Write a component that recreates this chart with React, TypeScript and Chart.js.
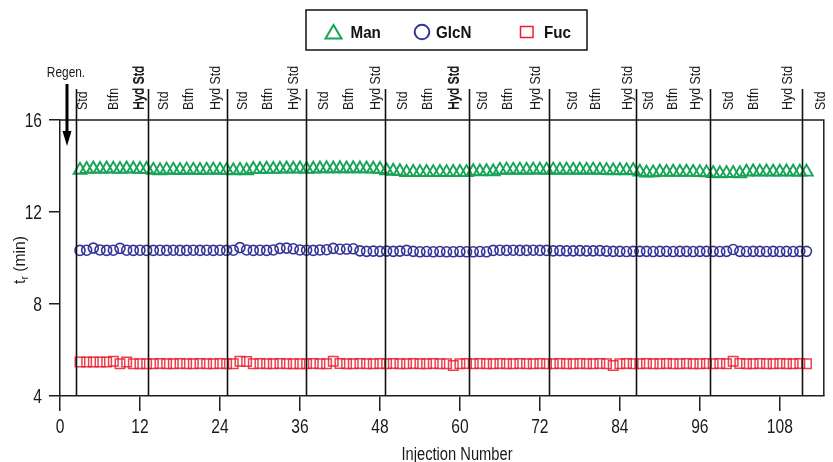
import React, { useEffect, useRef } from 'react';
import { Chart, registerables } from 'chart.js';

Chart.register(...registerables);

const injections = [
  3, 4, 5, 6, 7, 8, 9, 10, 11, 12, 13,
  14, 15, 16, 17, 18, 19, 20, 21, 22, 23, 24, 25,
  26, 27, 28, 29, 30, 31, 32, 33, 34, 35, 36,
  37, 38, 39, 40, 41, 42, 43, 44, 45, 46, 47, 48,
  49, 50, 51, 52, 53, 54, 55, 56, 57, 58, 59, 60, 61,
  62, 63, 64, 65, 66, 67, 68, 69, 70, 71, 72, 73,
  74, 75, 76, 77, 78, 79, 80, 81, 82, 83, 84, 85, 86,
  87, 88, 89, 90, 91, 92, 93, 94, 95, 96, 97,
  98, 99, 100, 101, 102, 103, 104, 105, 106, 107, 108, 109, 110, 111,
  112,
];

const manValues = [
  13.82, 13.86, 13.88, 13.86, 13.88, 13.87, 13.86, 13.88, 13.87, 13.86, 13.86,
  13.82, 13.8, 13.83, 13.82, 13.81, 13.83, 13.82, 13.81, 13.82, 13.83, 13.82, 13.81,
  13.8, 13.82, 13.8, 13.86, 13.85, 13.87, 13.86, 13.87, 13.88, 13.87, 13.88,
  13.86, 13.87, 13.88, 13.89, 13.88, 13.89, 13.88, 13.89, 13.88, 13.88, 13.87, 13.86,
  13.8, 13.78, 13.76, 13.72, 13.73, 13.72, 13.73, 13.72, 13.73, 13.72, 13.73, 13.73, 13.72,
  13.76, 13.75, 13.76, 13.75, 13.82, 13.83, 13.82, 13.83, 13.82, 13.83, 13.83, 13.82,
  13.83, 13.82, 13.83, 13.82, 13.83, 13.82, 13.83, 13.82, 13.81, 13.8, 13.81, 13.8, 13.81,
  13.74, 13.7, 13.71, 13.74, 13.73, 13.74, 13.73, 13.74, 13.73, 13.72, 13.71,
  13.68, 13.67, 13.68, 13.68, 13.67, 13.74, 13.75, 13.74, 13.75, 13.74, 13.74, 13.75, 13.74, 13.74,
  13.74,
];

const glcnValues = [
  10.33, 10.34, 10.43, 10.35, 10.33, 10.34, 10.42, 10.34, 10.33, 10.34, 10.33,
  10.33, 10.34, 10.33, 10.34, 10.33, 10.33, 10.34, 10.33, 10.34, 10.33, 10.34, 10.33,
  10.34, 10.45, 10.35, 10.33, 10.34, 10.33, 10.35, 10.42, 10.43, 10.4, 10.35,
  10.34, 10.33, 10.35, 10.36, 10.42, 10.38, 10.39, 10.4, 10.31, 10.29, 10.3, 10.29,
  10.3, 10.29, 10.3, 10.33, 10.29, 10.27, 10.28, 10.27, 10.28, 10.27, 10.27, 10.28, 10.27,
  10.27, 10.28, 10.27, 10.33, 10.34, 10.33, 10.34, 10.33, 10.33, 10.34, 10.33, 10.33,
  10.31, 10.32, 10.31, 10.31, 10.32, 10.31, 10.31, 10.32, 10.3, 10.29, 10.29, 10.28, 10.29,
  10.29, 10.29, 10.28, 10.29, 10.29, 10.28, 10.29, 10.29, 10.28, 10.29, 10.29,
  10.29, 10.28, 10.29, 10.37, 10.29, 10.28, 10.29, 10.29, 10.28, 10.29, 10.28, 10.29, 10.28, 10.29,
  10.29,
];

const fucValues = [
  5.48, 5.48, 5.48, 5.48, 5.48, 5.51, 5.4, 5.48, 5.4, 5.4, 5.4,
  5.4, 5.41, 5.4, 5.4, 5.41, 5.4, 5.4, 5.41, 5.4, 5.4, 5.41, 5.4,
  5.4, 5.51, 5.5, 5.4, 5.41, 5.4, 5.4, 5.41, 5.4, 5.4, 5.4,
  5.4, 5.41, 5.4, 5.4, 5.51, 5.41, 5.4, 5.4, 5.41, 5.4, 5.4, 5.41,
  5.4, 5.41, 5.4, 5.4, 5.41, 5.4, 5.4, 5.41, 5.4, 5.4, 5.33, 5.4, 5.41,
  5.4, 5.41, 5.4, 5.4, 5.41, 5.4, 5.4, 5.41, 5.4, 5.4, 5.41, 5.4,
  5.4, 5.41, 5.4, 5.4, 5.41, 5.4, 5.4, 5.41, 5.4, 5.33, 5.4, 5.41, 5.4,
  5.4, 5.41, 5.4, 5.4, 5.41, 5.4, 5.4, 5.41, 5.4, 5.4, 5.41,
  5.4, 5.41, 5.4, 5.51, 5.41, 5.4, 5.4, 5.41, 5.4, 5.4, 5.41, 5.4, 5.4, 5.41,
  5.4,
];

const seriesNames = ['Man', 'GlcN', 'Fuc'];
const xTickValues = [0, 12, 24, 36, 48, 60, 72, 84, 96, 108];
const yTickValues = [4, 8, 12, 16];
const regenLines = [2.4, 13.15, 25.0, 36.9, 48.8, 61.3, 73.4, 86.4, 97.6, 111.3];
const topLabels = [
  'Std', 'Btfn', 'Hyd Std', 'Std', 'Btfn', 'Hyd Std', 'Std', 'Btfn', 'Hyd Std',
  'Std', 'Btfn', 'Hyd Std', 'Std', 'Btfn', 'Hyd Std', 'Std', 'Btfn', 'Hyd Std',
  'Std', 'Btfn', 'Hyd Std', 'Std', 'Btfn', 'Hyd Std', 'Std', 'Btfn', 'Hyd Std', 'Std',
];
const topLabelPositions = [
  3.3, 7.95, 11.7, 15.45, 19.2, 23.25, 27.3, 31.05, 34.95,
  39.45, 43.2, 47.25, 51.3, 55.05, 58.95, 63.3, 67.05, 71.25,
  76.75, 80.25, 85.05, 88.2, 91.8, 95.25, 100.2, 103.95, 109.05, 114.0,
];
const topLabelBold = [
  false, false, true, false, false, false, false, false, false,
  false, false, false, false, false, true, false, false, false,
  false, false, false, false, false, false, false, false, false, false,
];

const FONT = "'Liberation Sans', Arial, Helvetica, sans-serif";
const GREEN = '#17a456';
const NAVY = '#34349a';
const RED = '#ea1f30';
const AXIS = '#1e1e1e';
const TEXT = '#1a1a1a';

// draw horizontally-condensed text (emulates a condensed face)
function condText(
  ctx: CanvasRenderingContext2D,
  text: string,
  x: number,
  y: number,
  size: number,
  sx: number,
  align: 'left' | 'center' | 'right',
  weight = 'normal',
  rot = 0,
) {
  ctx.save();
  ctx.translate(x, y);
  if (rot) ctx.rotate(rot);
  ctx.scale(sx, 1);
  ctx.font = `${weight} ${size}px ${FONT}`;
  ctx.textAlign = align;
  ctx.textBaseline = 'alphabetic';
  ctx.fillText(text, 0, 0);
  ctx.restore();
}

const overlayPlugin = {
  id: 'overlay',
  afterDatasetsDraw(chart: any) {
    const { ctx, chartArea } = chart;
    const xs = chart.scales.x;
    const ys = chart.scales.y;
    const { left, right, top, bottom } = chartArea;
    ctx.save();

    // plot frame (top & right)
    ctx.strokeStyle = AXIS;
    ctx.lineWidth = 1.5;
    ctx.beginPath();
    ctx.moveTo(left, top);
    ctx.lineTo(right, top);
    ctx.lineTo(right, bottom);
    ctx.stroke();

    // separator lines
    ctx.strokeStyle = '#111';
    ctx.lineWidth = 1.6;
    regenLines.forEach((v) => {
      const px = Math.round(xs.getPixelForValue(v)) + 0.5;
      ctx.beginPath();
      ctx.moveTo(px, 89);
      ctx.lineTo(px, bottom);
      ctx.stroke();
    });

    ctx.fillStyle = TEXT;

    // tick labels
    xTickValues.forEach((v) => {
      condText(ctx, String(v), xs.getPixelForValue(v), 433, 19.5, 0.8, 'center');
    });
    yTickValues.forEach((v) => {
      condText(ctx, String(v), 42, ys.getPixelForValue(v) + 7, 19.5, 0.8, 'right');
    });

    // x title
    condText(ctx, 'Injection Number', 457, 459.5, 17.5, 0.84, 'center');

    // top rotated labels (text runs bottom-to-top, starting at y=110)
    topLabels.forEach((lab, i) => {
      const px = xs.getPixelForValue(topLabelPositions[i]);
      condText(ctx, lab, px + 5.5, 110, 15.5, 0.8, 'left', 'normal', -Math.PI / 2);
      if (topLabelBold[i]) condText(ctx, lab, px + 5.9, 110, 15.5, 0.8, 'left', 'normal', -Math.PI / 2);
    });

    // Regen. label and arrow
    condText(ctx, 'Regen.', 66, 77, 14.5, 0.82, 'center');
    ctx.strokeStyle = '#000';
    ctx.lineWidth = 3;
    ctx.beginPath();
    ctx.moveTo(67, 84);
    ctx.lineTo(67, 133);
    ctx.stroke();
    ctx.fillStyle = '#000';
    ctx.beginPath();
    ctx.moveTo(62.5, 131);
    ctx.lineTo(71.5, 131);
    ctx.lineTo(67, 146);
    ctx.closePath();
    ctx.fill();
    ctx.fillStyle = TEXT;

    // y title with subscript: t_r (min)
    {
      const sx = 0.95;
      const main = 16.5;
      const sub = 11;
      ctx.font = `${main}px ${FONT}`;
      const wT = ctx.measureText('t').width * sx;
      ctx.font = `${sub}px ${FONT}`;
      const wR = ctx.measureText('r').width * sx;
      ctx.font = `${main}px ${FONT}`;
      const wRest = ctx.measureText(' (min)').width * sx;
      const total = wT + wR + wRest;
      const bx = 25; // baseline x on screen
      const cy = 260;
      let off = -total / 2;
      condText(ctx, 't', bx, cy - off, main, sx, 'left', 'normal', -Math.PI / 2);
      off += wT;
      condText(ctx, 'r', bx + 3, cy - off, sub, sx, 'left', 'normal', -Math.PI / 2);
      off += wR;
      condText(ctx, ' (min)', bx, cy - off, main, sx, 'left', 'normal', -Math.PI / 2);
    }

    // legend
    ctx.strokeStyle = '#111';
    ctx.lineWidth = 1.5;
    ctx.strokeRect(306, 10, 281, 40);
    ctx.lineWidth = 2;
    ctx.strokeStyle = GREEN;
    ctx.beginPath();
    ctx.moveTo(325.5, 38.5);
    ctx.lineTo(341.5, 38.5);
    ctx.lineTo(333.5, 25);
    ctx.closePath();
    ctx.stroke();
    ctx.strokeStyle = NAVY;
    ctx.beginPath();
    ctx.arc(422, 32, 7.3, 0, Math.PI * 2);
    ctx.stroke();
    ctx.strokeStyle = RED;
    ctx.lineWidth = 1.5;
    ctx.strokeRect(520.5, 26.5, 12.5, 11);
    ctx.fillStyle = '#111';
    condText(ctx, seriesNames[0], 350.5, 37.5, 16.5, 0.92, 'left', 'bold');
    condText(ctx, seriesNames[1], 436, 37.5, 16.5, 0.92, 'left', 'bold');
    condText(ctx, seriesNames[2], 544, 37.5, 16.5, 0.92, 'left', 'bold');

    ctx.restore();
  },
};

export default function App() {
  const canvasRef = useRef<HTMLCanvasElement | null>(null);

  useEffect(() => {
    const canvas = canvasRef.current;
    if (!canvas) return;
    const mk = (vals: number[]) => injections.map((x, i) => ({ x, y: vals[i] }));
    const chart = new Chart(canvas, {
      type: 'scatter',
      data: {
        datasets: [
          {
            label: seriesNames[0],
            data: mk(manValues),
            pointStyle: 'triangle',
            pointRadius: 7.3,
            pointBorderWidth: 1.9,
            borderColor: GREEN,
            backgroundColor: 'rgba(0,0,0,0)',
            showLine: false,
          },
          {
            label: seriesNames[1],
            data: mk(glcnValues),
            pointStyle: 'circle',
            pointRadius: 5,
            pointBorderWidth: 1.6,
            borderColor: NAVY,
            backgroundColor: 'rgba(0,0,0,0)',
            showLine: false,
          },
          {
            label: seriesNames[2],
            data: mk(fucValues),
            pointStyle: 'rect',
            pointRadius: 6.7,
            pointBorderWidth: 1.5,
            borderColor: 'rgba(234,31,48,0.85)',
            backgroundColor: 'rgba(0,0,0,0)',
            showLine: false,
          },
        ],
      },
      options: {
        animation: false,
        responsive: true,
        maintainAspectRatio: false,
        layout: { padding: { top: 120, right: 9, left: 0, bottom: 0 } },
        plugins: {
          legend: { display: false },
          tooltip: { enabled: false },
        },
        scales: {
          x: {
            type: 'linear',
            position: 'bottom',
            min: 0,
            max: 114.6,
            afterBuildTicks: (s: any) => {
              s.ticks = xTickValues.map((v) => ({ value: v }));
            },
            afterFit: (s: any) => {
              s.height = 66;
            },
            grid: {
              display: true,
              drawOnChartArea: false,
              drawTicks: true,
              tickLength: 15,
              color: AXIS,
              lineWidth: 1.5,
            },
            border: { display: true, color: AXIS, width: 1.5 },
            ticks: { display: false },
            title: { display: false },
          },
          y: {
            type: 'linear',
            min: 4,
            max: 16,
            afterBuildTicks: (s: any) => {
              s.ticks = yTickValues.map((v) => ({ value: v }));
            },
            afterFit: (s: any) => {
              s.width = 60;
            },
            grid: {
              display: true,
              drawOnChartArea: false,
              drawTicks: true,
              tickLength: 11,
              color: AXIS,
              lineWidth: 1.5,
            },
            border: { display: true, color: AXIS, width: 1.5 },
            ticks: { display: false },
          },
        },
      },
      plugins: [overlayPlugin],
    });
    return () => chart.destroy();
  }, []);

  return (
    <div style={{ position: 'fixed', left: 0, top: 0, width: 833, height: 462, background: '#fff' }}>
      <canvas ref={canvasRef} />
    </div>
  );
}
